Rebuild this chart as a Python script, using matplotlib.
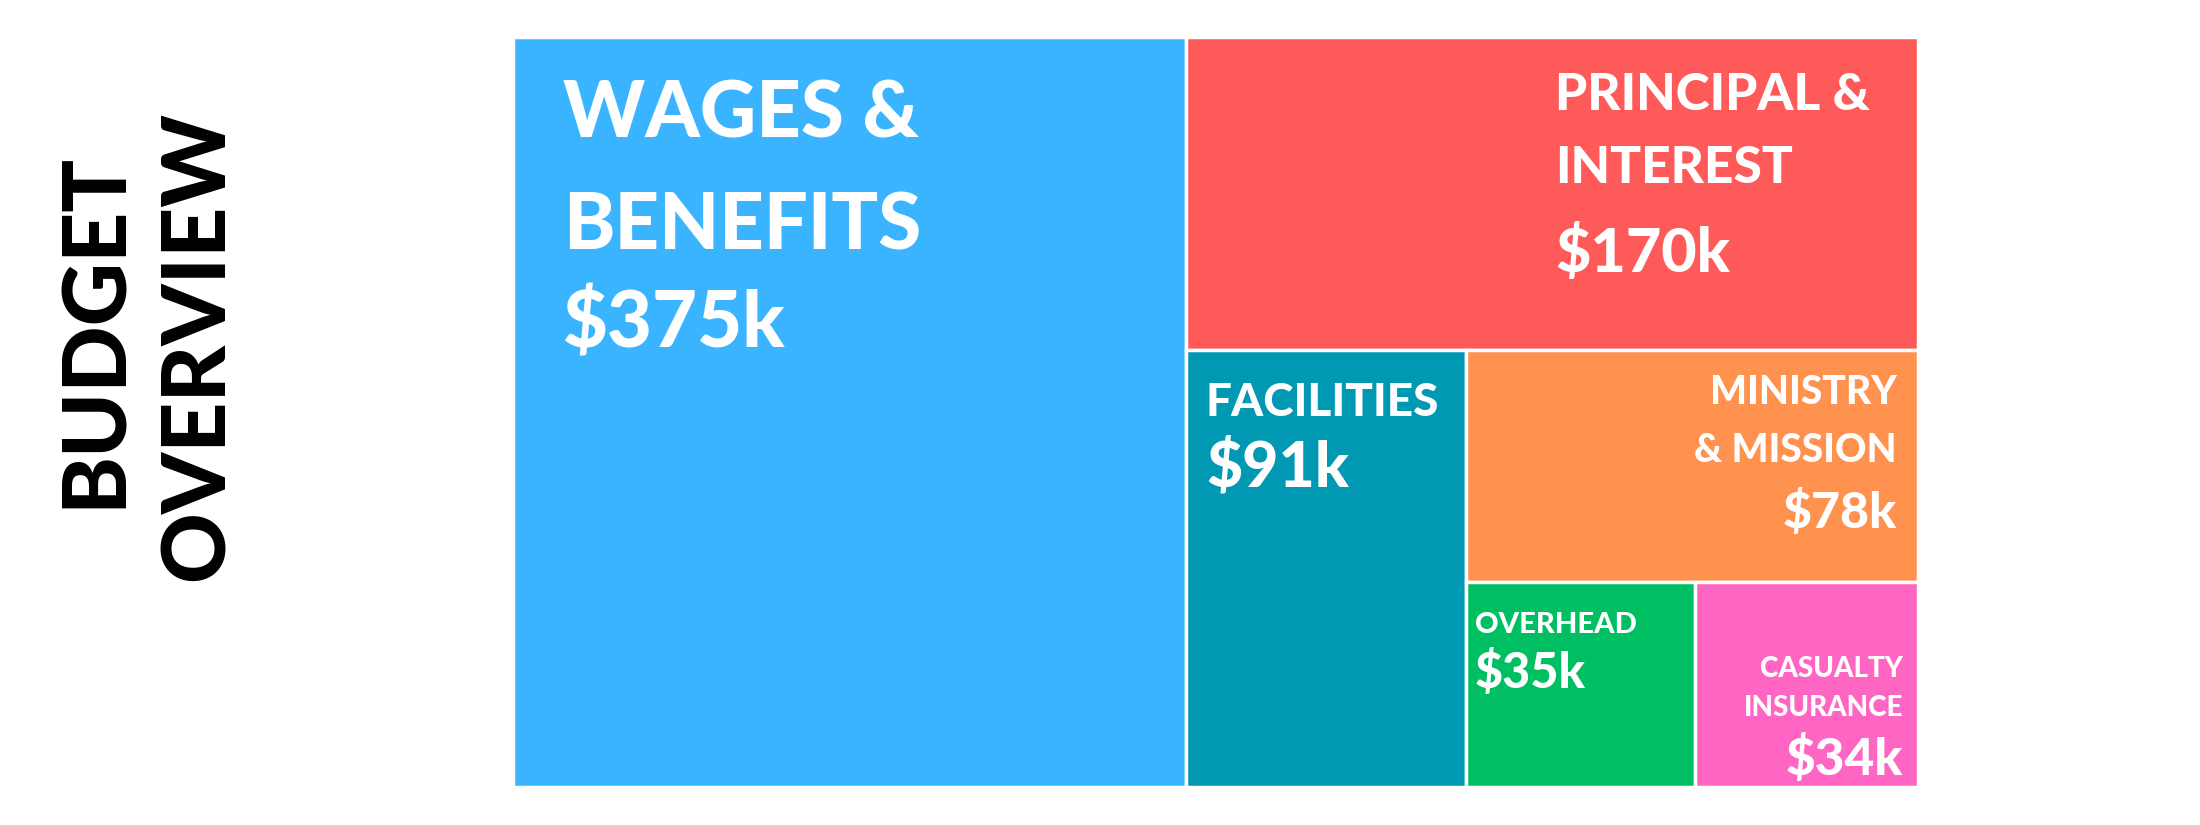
import numpy as np
import matplotlib.pyplot as plt
from matplotlib.patches import Rectangle

# budget items, in $k
names = ["WAGES &\nBENEFITS", "PRINCIPAL &\nINTEREST", "FACILITIES",
         "MINISTRY\n& MISSION", "OVERHEAD", "CASUALTY\nINSURANCE"]
values = [375, 170, 91, 78, 35, 34]
colors = ["#3BB4FF", "#FF5A5A", "#0098B3", "#FF924F", "#00BF63", "#FF66C4"]

plt.rcParams['font.family'] = ['Lato', 'DejaVu Sans']

# treemap box in pixel coords (figure is 2200x825)
X0, Y0, X1, Y1 = 513, 37, 1918, 787

def split(box, a, b, vertical):
    # cut box into two parts proportional to a and b
    x0, y0, x1, y1 = box
    f = a / (a + b)
    if vertical:
        xm = x0 + (x1 - x0) * f
        return (x0, y0, xm, y1), (xm, y0, x1, y1)
    ym = y0 + (y1 - y0) * f
    return (x0, y0, x1, ym), (x0, ym, x1, y1)

v = values
boxes = [None] * 6
boxes[0], rest = split((X0, Y0, X1, Y1), v[0], sum(v[1:]), True)
boxes[1], low = split(rest, v[1], sum(v[2:]), False)
boxes[2], right = split(low, v[2], sum(v[3:]), True)
boxes[3], bottom = split(right, v[3], sum(v[4:]), False)
boxes[4], boxes[5] = split(bottom, v[4], v[5], True)

fig = plt.figure(figsize=(22, 8.25), dpi=100)
ax = fig.add_axes([0, 0, 1, 1])
ax.set_xlim(0, 2200)
ax.set_ylim(825, 0)
ax.axis('off')

for (x0, y0, x1, y1), c in zip(boxes, colors):
    ax.add_patch(Rectangle((x0, y0), x1 - x0, y1 - y0, facecolor=c,
                           edgecolor='white', linewidth=2.5))

# label styles: anchor side, x offset, baselines below top, name size, value size
styles = [
    ('left', 50, [100, 213], 310, 56, 56),
    ('rright', 363, [73, 146], 235, 37, 44),
    ('left', 20, [67], 137, 33, 45),
    ('right', 21, [55, 112], 178, 28, 36),
    ('left', 9, [51], 106, 21, 35),
    ('right', 15, [95, 134], 193, 20, 37),
]

for (x0, y0, x1, y1), name, val, st in zip(boxes, names, values, styles):
    side, dx, bl, vbl, fs, vfs = st
    if side == 'left':
        tx, ha = x0 + dx, 'left'
    elif side == 'right':
        tx, ha = x1 - dx, 'right'
    else:
        tx, ha = x1 - dx, 'left'
    for line, b in zip(name.split("\n"), bl):
        ax.text(tx, y0 + b, line, ha=ha, va='baseline', color='white',
                fontsize=fs, fontweight='black')
    ax.text(tx, y0 + vbl, "$%dk" % val, ha=ha, va='baseline', color='white',
            fontsize=vfs, fontweight='black')

ax.text(95, 330, "BUDGET", rotation=90, ha='center', va='center',
        fontsize=63, fontweight='black', color='black')
ax.text(198, 346, "OVERVIEW", rotation=90, ha='center', va='center',
        fontsize=63, fontweight='black', color='black')

plt.savefig('out.png', dpi=100)
